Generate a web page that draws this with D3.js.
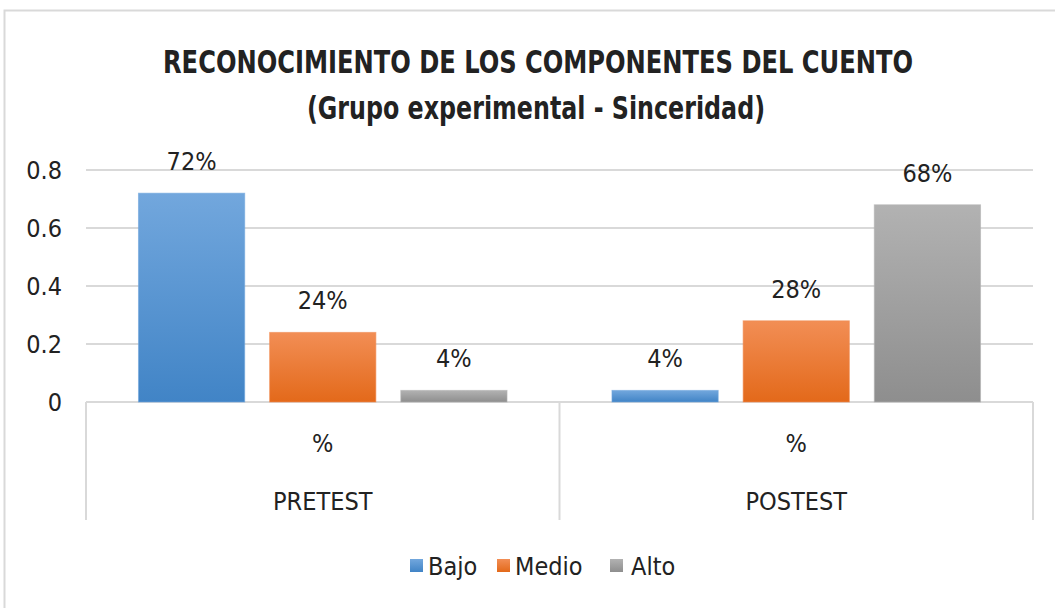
<!DOCTYPE html>
<html>
<head>
<meta charset="utf-8">
<script src="https://cdn.jsdelivr.net/npm/d3@7"></script>
<style>
  body { margin: 0; background: #fff; }
  svg text { font-family: "Liberation Sans Narrow", "DejaVu Sans Condensed", sans-serif; fill: #222; }
</style>
</head>
<body>
<div id="chart-container"></div>
<script>
// data
const groups = ["PRETEST", "POSTEST"];
const subLabel = "%";
const series = ["Bajo", "Medio", "Alto"];
const pretest = [0.72, 0.24, 0.04];
const postest = [0.04, 0.28, 0.68];
const yTicks = [0, 0.2, 0.4, 0.6, 0.8];

const svgWidth = 1055;
const svgHeight = 608;
const margin = { top: 170, right: 22, bottom: 206, left: 86 };
const width = svgWidth - margin.left - margin.right;
const height = 402 - margin.top;

const svg = d3.select("#chart-container")
    .append("svg")
    .attr("width", svgWidth)
    .attr("height", svgHeight);

// gradients like the office style bars
const colors = {
    Bajo: ["#72a7dd", "#4184c6"],
    Medio: ["#f28e55", "#e3691a"],
    Alto: ["#b2b2b2", "#8e8e8e"]
};
const defs = svg.append("defs");
series.forEach(s => {
    const g = defs.append("linearGradient")
        .attr("id", "grad-" + s)
        .attr("x1", 0).attr("y1", 0).attr("x2", 0).attr("y2", 1);
    g.append("stop").attr("offset", "0%").attr("stop-color", colors[s][0]);
    g.append("stop").attr("offset", "100%").attr("stop-color", colors[s][1]);
});

// outer frame
svg.append("rect")
    .attr("x", 4.5).attr("y", 10.5)
    .attr("width", 1100).attr("height", 700)
    .attr("fill", "none")
    .attr("stroke", "#d9d9d9")
    .attr("stroke-width", 2);

// title
svg.append("text")
    .attr("x", 538).attr("y", 73)
    .attr("text-anchor", "middle")
    .attr("font-weight", "bold")
    .attr("font-size", 32)
    .attr("textLength", 750)
    .attr("lengthAdjust", "spacingAndGlyphs")
    .text("RECONOCIMIENTO DE LOS COMPONENTES DEL CUENTO");
svg.append("text")
    .attr("x", 536).attr("y", 119)
    .attr("text-anchor", "middle")
    .attr("font-weight", "bold")
    .attr("font-size", 32)
    .attr("textLength", 458)
    .attr("lengthAdjust", "spacingAndGlyphs")
    .text("(Grupo experimental - Sinceridad)");

const chart = svg.append("g")
    .attr("transform", `translate(${margin.left},${margin.top})`);

const y = d3.scaleLinear().domain([0, 0.8]).range([height, 0]);
const x0 = d3.scaleBand().domain(groups).range([0, width]).padding(0);
const x1 = d3.scaleBand().domain(series).range([0, x0.bandwidth()])
    .paddingInner(0.19).paddingOuter(0.4);

// gridlines
chart.append("g")
    .selectAll("line")
    .data(yTicks)
    .join("line")
    .attr("x1", 0).attr("x2", width)
    .attr("y1", d => y(d)).attr("y2", d => y(d))
    .attr("stroke", "#d9d9d9")
    .attr("stroke-width", 2);

// y axis labels
chart.append("g")
    .selectAll("text")
    .data(yTicks)
    .join("text")
    .attr("x", -24)
    .attr("y", d => y(d) + 9)
    .attr("text-anchor", "end")
    .attr("font-size", 25)
    .text(d => d === 0 ? "0" : d3.format(".1f")(d));

// category axis boxes (vertical separators)
const seps = [0, x0("POSTEST"), width];
chart.append("g")
    .selectAll("line")
    .data(seps)
    .join("line")
    .attr("x1", d => d).attr("x2", d => d)
    .attr("y1", height).attr("y2", 520 - margin.top)
    .attr("stroke", "#d9d9d9")
    .attr("stroke-width", 2);

// bars
const rows = groups.map((g, i) => ({
    group: g,
    values: series.map((s, j) => ({ key: s, value: (i === 0 ? pretest : postest)[j] }))
}));

const grp = chart.append("g")
    .selectAll("g")
    .data(rows)
    .join("g")
    .attr("transform", d => `translate(${x0(d.group)},0)`);

grp.selectAll("rect")
    .data(d => d.values)
    .join("rect")
    .attr("x", d => x1(d.key))
    .attr("y", d => y(d.value))
    .attr("width", x1.bandwidth())
    .attr("height", d => height - y(d.value))
    .attr("fill", d => `url(#grad-${d.key})`)
    .attr("stroke", d => colors[d.key][0])
    .attr("stroke-opacity", 0.6);

// value labels
grp.selectAll("text.val")
    .data(d => d.values)
    .join("text")
    .attr("class", "val")
    .attr("x", d => x1(d.key) + x1.bandwidth() / 2)
    .attr("y", d => y(d.value) - 23)
    .attr("text-anchor", "middle")
    .attr("font-size", 25)
    .text(d => d3.format(".0%")(d.value));

// category labels
chart.append("g")
    .selectAll("text")
    .data(groups)
    .join("text")
    .attr("x", d => x0(d) + x0.bandwidth() / 2)
    .attr("y", 452 - margin.top)
    .attr("text-anchor", "middle")
    .attr("font-size", 25)
    .text(subLabel);
chart.append("g")
    .selectAll("text")
    .data(groups)
    .join("text")
    .attr("x", d => x0(d) + x0.bandwidth() / 2)
    .attr("y", 510 - margin.top)
    .attr("text-anchor", "middle")
    .attr("font-size", 25)
    .text(d => d);

// legend
const legendX = [410, 497, 610];
const legend = svg.append("g")
    .selectAll("g")
    .data(series)
    .join("g")
    .attr("transform", (d, i) => `translate(${legendX[i]},566)`);
legend.append("rect")
    .attr("x", 0).attr("y", -7)
    .attr("width", 13).attr("height", 13)
    .attr("fill", d => `url(#grad-${d})`);
legend.append("text")
    .attr("x", d => d === "Alto" ? 21 : 18)
    .attr("y", 9)
    .attr("font-size", 25)
    .text(d => d);
</script>
</body>
</html>
